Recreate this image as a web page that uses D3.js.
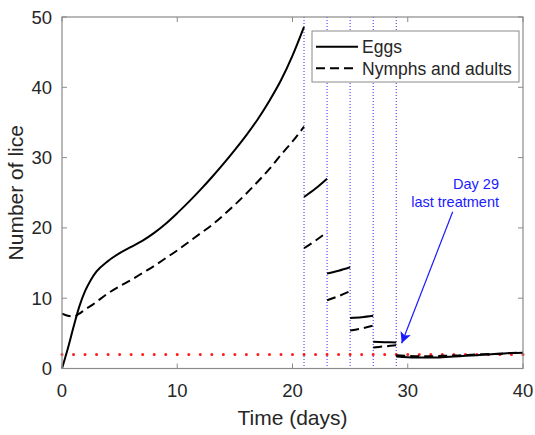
<!DOCTYPE html>
<html>
<head>
<meta charset="utf-8">
<script src="https://cdn.jsdelivr.net/npm/d3@7"></script>
<style>
  body { margin: 0; background: #fff; }
  text { font-family: "Liberation Sans", Arial, sans-serif; }
</style>
</head>
<body>
<svg id="chart" width="535" height="435"></svg>
<script>
// growth before treatment
var daysGrowth = [0, 0.5, 1, 1.5, 2, 2.5, 3, 4, 5, 6, 7, 8, 9, 10, 11, 12, 13, 14, 15, 16, 17, 18, 19, 20, 21];
var eggsGrowth = [0, 2.8, 5.9, 8.8, 11.0, 12.6, 13.8, 15.3, 16.4, 17.3, 18.2, 19.3, 20.6, 22.1, 23.7, 25.4, 27.2, 29.1, 31.1, 33.2, 35.5, 38.1, 41.0, 44.5, 48.6];
var nymphsGrowth = [7.8, 7.5, 7.4, 7.8, 8.4, 8.9, 9.5, 10.7, 11.7, 12.6, 13.6, 14.6, 15.7, 16.8, 18.0, 19.2, 20.4, 21.8, 23.3, 24.9, 26.6, 28.4, 30.4, 32.3, 34.4];

// treatment days and the pieces between them (start, middle, end)
var treatDays = [21, 23, 25, 27, 29];
var eggsPieces = [[24.4, 25.6, 27.0], [13.5, 13.9, 14.4], [7.2, 7.3, 7.5], [3.8, 3.75, 3.7]];
var nymphsPieces = [[17.1, 18.2, 19.4], [9.7, 10.3, 11.0], [5.4, 5.7, 6.1], [3.0, 3.15, 3.3]];

// after last treatment
var daysTail = [29, 30, 31, 32, 33, 34, 35, 36, 37, 38, 39, 40];
var eggsTail = [1.7, 1.6, 1.55, 1.55, 1.6, 1.7, 1.8, 1.9, 2.0, 2.1, 2.2, 2.25];
var nymphsTail = [1.9, 1.8, 1.75, 1.75, 1.8, 1.85, 1.9, 2.0, 2.05, 2.1, 2.2, 2.25];

var threshold = 2;
var xTicks = [0, 10, 20, 30, 40];
var yTicks = [0, 10, 20, 30, 40, 50];

var svg = d3.select("#chart");
var L = 62, R = 523, T = 17, B = 368.5;
var axisCol = "#8a8a8a", textCol = "#262626";

var x = d3.scaleLinear().domain([0, 40]).range([L, R]);
var y = d3.scaleLinear().domain([0, 50]).range([B, T]);

// white plot area
svg.append("rect").attr("x", L).attr("y", T).attr("width", R - L).attr("height", B - T)
    .attr("fill", "#fff").attr("stroke", "none");

// treatment lines
svg.selectAll(".treat").data(treatDays).enter().append("line")
    .attr("x1", function(d) { return x(d); }).attr("x2", function(d) { return x(d); })
    .attr("y1", T).attr("y2", B)
    .attr("stroke", "#2b2bff").attr("stroke-width", 1)
    .attr("stroke-dasharray", "1,2");

// threshold dots, one per day
svg.append("line")
    .attr("x1", x(0)).attr("x2", x(40))
    .attr("y1", y(threshold)).attr("y2", y(threshold))
    .attr("stroke", "#ff1a1a").attr("stroke-width", 3)
    .attr("stroke-linecap", "round")
    .attr("stroke-dasharray", "0," + (x(1) - x(0)));

var line = d3.line()
    .x(function(d) { return x(d[0]); })
    .y(function(d) { return y(d[1]); })
    .curve(d3.curveMonotoneX);

function drawSeries(days, vals, dashed) {
    svg.append("path")
        .attr("d", line(d3.zip(days, vals)))
        .attr("fill", "none").attr("stroke", "#000").attr("stroke-width", 2)
        .attr("stroke-dasharray", dashed ? "9,5" : null);
}

drawSeries(daysGrowth, eggsGrowth, false);
drawSeries(daysGrowth, nymphsGrowth, true);
for (var i = 0; i < eggsPieces.length; i++) {
    var a = treatDays[i], b = treatDays[i + 1];
    var dd = [a, (a + b) / 2, b];
    drawSeries(dd, eggsPieces[i], false);
    drawSeries(dd, nymphsPieces[i], true);
}
drawSeries(daysTail, eggsTail, false);
drawSeries(daysTail, nymphsTail, true);

// box with inward ticks on all sides
svg.append("rect").attr("x", L).attr("y", T).attr("width", R - L).attr("height", B - T)
    .attr("fill", "none").attr("stroke", axisCol).attr("stroke-width", 1.2);

var tk = 5;
xTicks.forEach(function(t) {
    svg.append("line").attr("x1", x(t)).attr("x2", x(t)).attr("y1", B).attr("y2", B - tk).attr("stroke", axisCol);
    svg.append("line").attr("x1", x(t)).attr("x2", x(t)).attr("y1", T).attr("y2", T + tk).attr("stroke", axisCol);
    svg.append("text").attr("x", x(t)).attr("y", 397).attr("text-anchor", "middle")
        .attr("font-size", 18.5).attr("fill", textCol).text(t);
});
yTicks.forEach(function(t) {
    svg.append("line").attr("x1", L).attr("x2", L + tk).attr("y1", y(t)).attr("y2", y(t)).attr("stroke", axisCol);
    svg.append("line").attr("x1", R).attr("x2", R - tk).attr("y1", y(t)).attr("y2", y(t)).attr("stroke", axisCol);
    svg.append("text").attr("x", 52).attr("y", y(t) + 6.5).attr("text-anchor", "end")
        .attr("font-size", 18.5).attr("fill", textCol).text(t);
});

// axis titles
svg.append("text").attr("x", (L + R) / 2).attr("y", 425).attr("text-anchor", "middle")
    .attr("font-size", 21).attr("fill", textCol).text("Time (days)");
svg.append("text").attr("transform", "translate(23," + ((T + B) / 2) + ") rotate(-90)")
    .attr("text-anchor", "middle").attr("font-size", 21).attr("fill", textCol).text("Number of lice");

// annotation
var blue = "#1a1aff";
svg.append("text").attr("x", 499).attr("y", 189).attr("text-anchor", "end")
    .attr("font-size", 14.5).attr("fill", blue).text("Day 29");
svg.append("text").attr("x", 499).attr("y", 206.5).attr("text-anchor", "end")
    .attr("font-size", 14.5).attr("fill", blue).text("last treatment");
svg.append("defs").append("marker").attr("id", "head")
    .attr("viewBox", "0 0 10 10").attr("refX", 10).attr("refY", 5)
    .attr("markerWidth", 14).attr("markerHeight", 11).attr("markerUnits", "userSpaceOnUse")
    .attr("orient", "auto")
    .append("path").attr("d", "M0,0 L10,5 L0,10 L2.5,5 Z").attr("fill", blue);
svg.append("line").attr("x1", 452.7).attr("y1", 211.7).attr("x2", 401.7).attr("y2", 343.3)
    .attr("stroke", blue).attr("stroke-width", 1.2).attr("marker-end", "url(#head)");

// legend
var lg = svg.append("g");
lg.append("rect").attr("x", 312).attr("y", 31).attr("width", 207).attr("height", 51)
    .attr("fill", "#fff").attr("stroke", axisCol).attr("stroke-width", 1);
var legendItems = [["Eggs", false], ["Nymphs and adults", true]];
legendItems.forEach(function(d, i) {
    var ly = 46.7 + i * 21.6;
    lg.append("line").attr("x1", 316).attr("x2", 358).attr("y1", ly).attr("y2", ly)
        .attr("stroke", "#000").attr("stroke-width", 2)
        .attr("stroke-dasharray", d[1] ? "9,5" : null);
    lg.append("text").attr("x", 362).attr("y", ly + 6.3).attr("font-size", 17.5)
        .attr("fill", textCol).text(d[0]);
});
</script>
</body>
</html>
